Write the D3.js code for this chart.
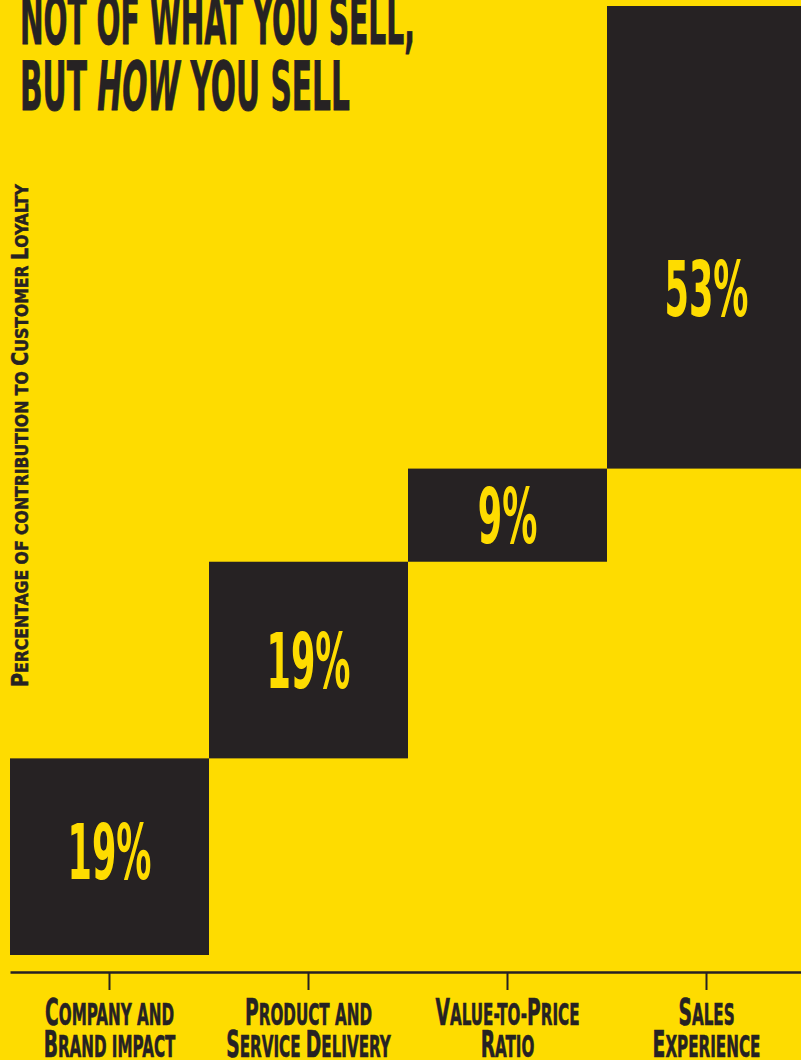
<!DOCTYPE html>
<html><head><meta charset="utf-8">
<script src="https://cdn.jsdelivr.net/npm/d3@7"></script>
<style>html,body{margin:0;padding:0;background:#FEDC00;overflow:hidden}text{white-space:pre}</style>
</head><body><svg id="c" width="801" height="1060"></svg>
<script>
// ---- data ----
const categories = ["Company and Brand impact", "Product and Service Delivery", "Value-to-Price Ratio", "Sales Experience"];
const labelLine1 = ["Company and", "Product and", "Value-to-Price", "Sales"];
const labelLine2 = ["Brand impact", "Service Delivery", "Ratio", "Experience"];
const values = [19, 19, 9, 53];
const valueLabels = ["19%", "19%", "9%", "53%"];
const yAxisTitle = "Percentage of contribution to Customer Loyalty";
const titleLine1 = ["NOT OF WHAT YOU SELL,"];
const titleLine2 = ["BUT ", "HOW", " YOU SELL"];
const titleItalic = [false, true, false];

// ---- style ----
const W = 801, H = 1060;
const yellow = "#FEDC00", dark = "#262223";
const FONT = "'Liberation Sans Narrow','DejaVu Sans Condensed','Arial Narrow',sans-serif";
const svg = d3.select("#c").attr("width", W).attr("height", H);
svg.append("rect").attr("width", W).attr("height", H).attr("fill", yellow);

const plotTop = 6, plotBottom = 955, axisY = 972;
const x = d3.scaleBand().domain(categories).range([10, 806]).padding(0);
const y = d3.scaleLinear().domain([0, 91.7]).range([plotBottom, plotTop]).clamp(true);

const ends = Array.from(d3.cumsum(values));
const starts = ends.map((e, i) => e - values[i]);
const bars = categories.map((c, i) => ({c, start: starts[i], end: ends[i], label: valueLabels[i]}));

svg.append("g").selectAll("rect").data(bars).join("rect")
  .attr("x", d => x(d.c))
  .attr("y", d => y(d.end))
  .attr("width", x.bandwidth())
  .attr("height", d => y(d.start) - y(d.end))
  .attr("fill", dark);

function condense(sel, f) {
  sel.each(function () {
    const t = d3.select(this);
    const tx = +t.attr("data-x"), ty = +t.attr("data-y");
    t.attr("transform", `translate(${tx},${ty}) scale(${f},1)`);
  });
}
function place(t, px, py) { return t.attr("data-x", px).attr("data-y", py).attr("x", 0).attr("y", 0); }
function smallCaps(t, str, big, small) {
  const runs = [];
  for (const ch of str) {
    const isBig = ch !== ch.toLowerCase();
    const size = isBig ? big : small;
    if (runs.length && runs[runs.length - 1].size === size) runs[runs.length - 1].t += ch.toUpperCase();
    else runs.push({t: ch.toUpperCase(), size});
  }
  t.selectAll("tspan").data(runs).join("tspan").attr("font-size", d => d.size).text(d => d.t);
}

// ---- value labels ----
const vSize = 76, vCap = 55;
const vl = svg.append("g").selectAll("text").data(bars).join("text")
  .attr("font-family", FONT).attr("font-weight", "bold").attr("font-size", vSize)
  .attr("fill", yellow).attr("text-anchor", "middle")
  .text(d => d.label)
  .each(function (d, i) {
    const clipped = d.end > y.domain()[1];
    const top = clipped ? y(d.start + (y.domain()[1] - d.start) * 0.39) * 2 - y(d.start) : y(d.end);
    const cy = (y(d.start) + top) / 2 - (i === 0 ? 5 : 0);
    place(d3.select(this), x(d.c) + x.bandwidth() / 2, cy + vCap / 2);
  });
const vf = 84 / vl.node().getComputedTextLength();
condense(vl, vf);

// ---- axis ----
const ax = svg.append("g").attr("transform", `translate(0,${axisY})`)
  .call(d3.axisBottom(x).tickSize(18).tickSizeOuter(0).tickFormat(""));
ax.select(".domain").attr("stroke", dark).attr("stroke-width", 2.5);
ax.selectAll(".tick line").attr("stroke", dark).attr("stroke-width", 2);
ax.selectAll(".tick text").remove();
const tickG = ax.selectAll(".tick");
const l1 = tickG.append("text").attr("font-family", FONT).attr("font-weight", "bold")
  .attr("fill", dark).attr("stroke", dark).attr("stroke-width", 0.6).attr("text-anchor", "middle")
  .each(function (d, i) { const t = d3.select(this); smallCaps(t, labelLine1[i], 37, 30); place(t, 0, 53); });
const l2 = tickG.append("text").attr("font-family", FONT).attr("font-weight", "bold")
  .attr("fill", dark).attr("stroke", dark).attr("stroke-width", 0.6).attr("text-anchor", "middle")
  .each(function (d, i) { const t = d3.select(this); smallCaps(t, labelLine2[i], 37, 30); place(t, 0, 84.5); });
const tf = 129 / l1.node().getComputedTextLength();
condense(l1, tf); condense(l2, tf);

// ---- y axis title ----
const yt = svg.append("text").attr("font-family", FONT).attr("font-weight", "bold").attr("fill", dark)
  .attr("stroke", dark).attr("stroke-width", 0.5).attr("text-anchor", "start");
smallCaps(yt, yAxisTitle, 22.5, 18.5);
const yf = 503 / yt.node().getComputedTextLength();
yt.attr("transform", `translate(27.5,687) rotate(-90) scale(${yf},1)`);

// ---- title ----
const tSize = 67;
function titleLine(parts, italics, by) {
  const t = svg.append("text").attr("font-family", FONT).attr("font-weight", "bold")
    .attr("font-size", tSize).attr("fill", dark).attr("stroke", dark).attr("stroke-width", 0.8);
  t.selectAll("tspan").data(parts).join("tspan")
    .attr("font-style", (d, i) => italics[i] ? "italic" : "normal").text(d => d);
  place(t, 20, by);
  return t;
}
const t1 = titleLine(titleLine1, [false], 44);
const t2 = titleLine(titleLine2, titleItalic, 110);
condense(t1, 395 / t1.node().getComputedTextLength());
condense(t2, 330 / t2.node().getComputedTextLength());
</script></body></html>
